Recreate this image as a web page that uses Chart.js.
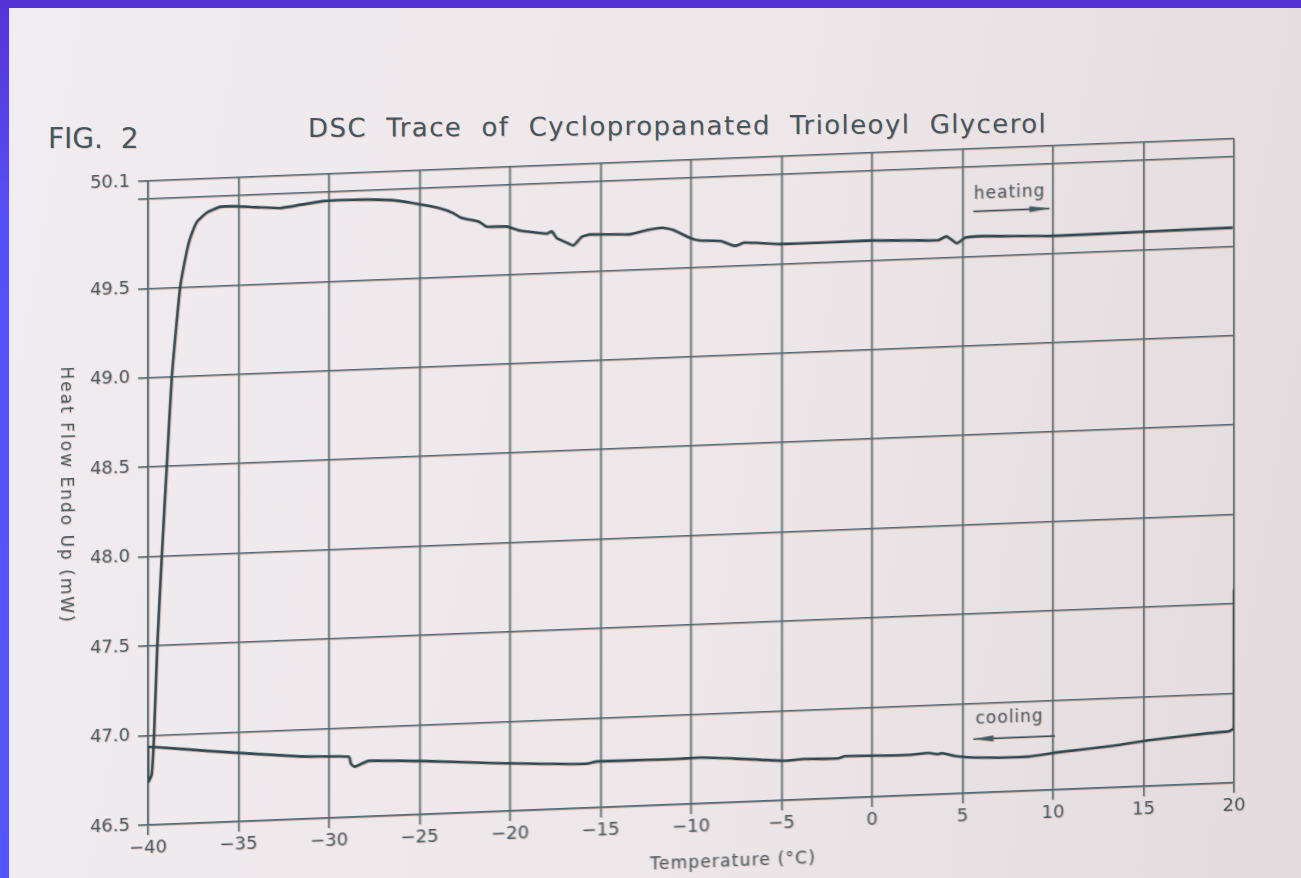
<!DOCTYPE html>
<html>
<head>
<meta charset="utf-8">
<title>DSC Trace of Cyclopropanated Trioleoyl Glycerol</title>
<script src="https://cdn.jsdelivr.net/npm/chart.js@4.4.1/dist/chart.umd.min.js"></script>
<style>
  html, body { margin: 0; padding: 0; }
  body {
    width: 1301px; height: 878px; overflow: hidden; position: relative;
    background: linear-gradient(100deg, #f1ecef 0%, #ede7ea 55%, #e3dbdd 100%);
    font-family: "DejaVu Sans", sans-serif;
  }
  #frameTop { position: absolute; left: 0; top: 0; width: 1301px; height: 8px; background: #5533d6; z-index: 5; }
  #frameLeft { position: absolute; left: 0; top: 0; width: 9px; height: 878px; background: linear-gradient(#5533d6, #5750f6 25%, #5555ff); z-index: 5; }
  .txt { position: absolute; white-space: pre; color: #3f5862; text-shadow: 1px 1px 0 rgba(236, 146, 118, 0.45); }
  #fig { left: 48px; top: 125px; font-size: 28px; line-height: 28px; }
  #title { left: 308px; top: 115px; font-size: 26px; line-height: 26px; letter-spacing: 1.4px; transform: rotate(-0.35deg); transform-origin: left center; }
  #wrap {
    position: absolute; left: 0; top: 0; width: 1301px; height: 900px;
    transform: skewY(-2.23deg); transform-origin: 148px 0;
    filter: drop-shadow(1px 1px 0 rgba(236, 146, 118, 0.45));
  }
</style>
</head>
<body>
<div id="frameTop"></div>
<div id="frameLeft"></div>
<div class="txt" id="fig">FIG.  2</div>
<div class="txt" id="title">DSC  Trace  of  Cyclopropanated  Trioleoyl  Glycerol</div>
<div id="wrap"><canvas id="dsc" width="1301" height="900"></canvas></div>

<script>
// heating run, -40 -> 20 °C
const heatingTemp = [-40.0, -40.0, -39.8, -39.67, -39.49, -39.24, -38.97, -38.69, -38.23, -37.86,
    -37.68, -37.31, -36.76, -36.02, -35.2, -34.0, -32.7, -30.3, -28.3, -26.5,
    -25.4, -23.9, -23.15, -22.7, -21.7, -21.3, -20.2, -19.45, -17.97, -17.7,
    -17.4, -16.9, -16.5, -16.04, -15.6, -13.4, -12.45, -11.6, -11.0, -10.06,
    -9.5, -8.36, -7.6, -7.03, -5.1, 0.0, 3.64, 4.12, 4.69, 5.17,
    6.1, 10.1, 15.1, 19.93];
const heatingFlow = [46.93, 46.74, 46.78, 47.0, 47.5, 48.0, 48.5, 49.0, 49.5, 49.70,
    49.77, 49.86, 49.91, 49.94, 49.94, 49.93, 49.92, 49.95, 49.95, 49.94,
    49.92, 49.885, 49.855, 49.826, 49.80, 49.772, 49.768, 49.742, 49.719, 49.731,
    49.69, 49.666, 49.647, 49.694, 49.705, 49.697, 49.717, 49.727, 49.713, 49.664,
    49.647, 49.64, 49.61, 49.626, 49.61, 49.61, 49.597, 49.617, 49.576, 49.607,
    49.61, 49.596, 49.60, 49.603];

// cooling run, 20 -> -40 °C
const coolingTemp = [20.0, 19.99, 19.74, 18.67, 15.25, 13.36, 10.31, 8.6, 5.74, 4.6,
    3.85, 3.65, 3.08, 1.93, -1.5, -1.88, -3.79, -4.93, -7.6, -9.5,
    -10.84, -15.19, -15.78, -20.72, -24.66, -27.81, -28.21, -28.6, -28.8, -28.9,
    -31.56, -36.5, -39.65, -40.0];
const coolingFlow = [47.58, 46.807, 46.789, 46.783, 46.756, 46.733, 46.709, 46.691, 46.697, 46.710,
    46.729, 46.724, 46.733, 46.726, 46.733, 46.722, 46.726, 46.721, 46.744, 46.757,
    46.754, 46.758, 46.747, 46.770, 46.797, 46.811, 46.796, 46.781, 46.799, 46.838,
    46.850, 46.899, 46.935, 46.936];

const yTicks = [46.5, 47.0, 47.5, 48.0, 48.5, 49.0, 49.5, 50.0, 50.1];
const yTickLabels = ['46.5', '47.0', '47.5', '48.0', '48.5', '49.0', '49.5', '', '50.1'];
const xTickStep = 5;

// labels on the plot: [temp, heat flow]
const heatingNote = { text: 'heating', at: [7.6, 49.848], arrow: [5.6, 9.8, 49.75] };
const coolingNote = { text: 'cooling', at: [7.6, 46.91], arrow: [10.1, 5.6, 46.80] };

const ink = '#2c4852';
const gridInk = '#4a6a74';
const textInk = '#425c66';

function pairs(xs, ys) {
    return xs.map((t, i) => ({ x: t, y: ys[i] }));
}

function drawArrow(ctx, x1, x2, yp) {
    const dir = x2 > x1 ? 1 : -1;
    ctx.beginPath();
    ctx.moveTo(x1, yp);
    ctx.lineTo(x2, yp);
    ctx.stroke();
    ctx.beginPath();
    ctx.moveTo(x2, yp);
    ctx.lineTo(x2 - dir * 20, yp - 3);
    ctx.lineTo(x2 - dir * 20, yp + 3);
    ctx.closePath();
    ctx.fill();
}

const notesPlugin = {
    id: 'notes',
    afterDatasetsDraw(chart) {
        const { ctx, scales: { x, y } } = chart;
        ctx.save();
        ctx.fillStyle = textInk;
        ctx.strokeStyle = ink;
        ctx.lineWidth = 1.5;
        ctx.textAlign = 'center';
        ctx.textBaseline = 'middle';
        ctx.font = '17px "DejaVu Sans"';
        ctx.letterSpacing = '1px';

        [heatingNote, coolingNote].forEach(n => {
            ctx.fillText(n.text, x.getPixelForValue(n.at[0]), y.getPixelForValue(n.at[1]));
            drawArrow(ctx, x.getPixelForValue(n.arrow[0]), x.getPixelForValue(n.arrow[1]),
                y.getPixelForValue(n.arrow[2]));
        });

        // axis titles
        ctx.font = '17px "DejaVu Sans"';
        ctx.letterSpacing = '1.2px';
        ctx.fillText('Temperature (°C)', 733, 885);

        ctx.letterSpacing = '2px';
        ctx.translate(65, 492);
        ctx.rotate(Math.PI / 2);
        ctx.fillText('Heat Flow Endo Up (mW)', 0, 0);
        ctx.restore();
    }
};

const chart = new Chart(document.getElementById('dsc').getContext('2d'), {
    type: 'scatter',
    data: {
        datasets: [
            {
                label: 'heating',
                data: pairs(heatingTemp, heatingFlow),
                showLine: true,
                borderColor: ink,
                borderWidth: 2.6,
                pointRadius: 0,
                tension: 0.15
            },
            {
                label: 'cooling',
                data: pairs(coolingTemp, coolingFlow),
                showLine: true,
                borderColor: ink,
                borderWidth: 2.6,
                pointRadius: 0,
                tension: 0.15
            }
        ]
    },
    options: {
        responsive: false,
        animation: false,
        devicePixelRatio: 1,
        layout: { padding: { left: 0, right: 67, top: 181, bottom: 0 } },
        plugins: {
            legend: { display: false },
            tooltip: { enabled: false }
        },
        scales: {
            x: {
                type: 'linear',
                min: -40,
                max: 20,
                grid: { color: gridInk, lineWidth: 1.6, tickLength: 10 },
                border: { color: gridInk, width: 1.6 },
                ticks: {
                    stepSize: xTickStep,
                    padding: 3,
                    color: textInk,
                    font: { family: 'DejaVu Sans', size: 18 },
                    callback: v => (v < 0 ? '\u2212' + Math.abs(v) : String(v))
                },
                afterFit: s => { s.height = 900 - 825; }
            },
            y: {
                min: 46.5,
                max: 50.1,
                afterBuildTicks: s => { s.ticks = yTicks.map(v => ({ value: v })); },
                grid: { color: gridInk, lineWidth: 1.6, tickLength: 10 },
                border: { color: gridInk, width: 1.6 },
                ticks: {
                    padding: 8,
                    color: textInk,
                    font: { family: 'DejaVu Sans', size: 18 },
                    callback: (v, i) => yTickLabels[i]
                },
                afterFit: s => { s.width = 148; }
            }
        }
    },
    plugins: [notesPlugin]
});
</script>
</body>
</html>
